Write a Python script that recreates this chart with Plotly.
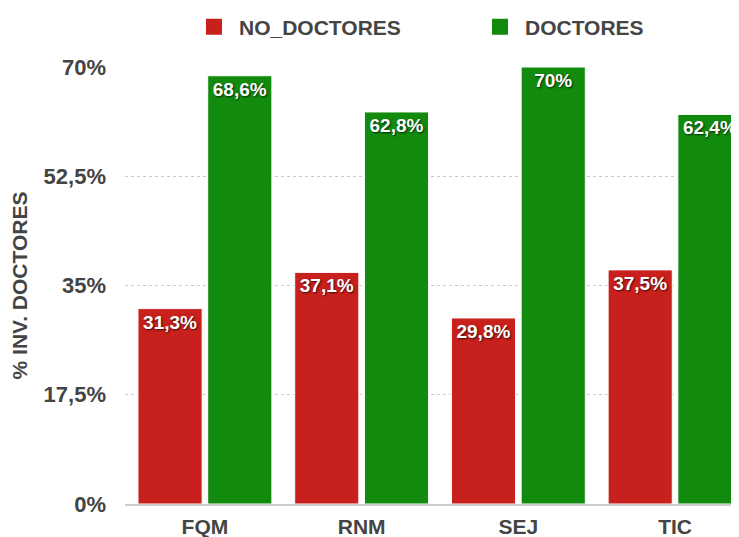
import plotly.graph_objects as go

categories = ["FQM", "RNM", "SEJ", "TIC"]
no_doctores = [31.3, 37.1, 29.8, 37.5]
doctores = [68.6, 62.8, 70, 62.4]
tick_vals = [0, 17.5, 35, 52.5, 70]


def pct(v):
    s = f"{v:g}".replace(".", ",")
    return s + "%"


RED = "#C8201C"
GREEN = "#118A0E"
FONT = "Liberation Sans"
TXT = "#444444"
W, H = 731, 529

fig = go.Figure()
series = [("NO_DOCTORES", no_doctores, RED, "legend"), ("DOCTORES", doctores, GREEN, "legend2")]
for name, vals, col, lg in series:
    fig.add_trace(go.Bar(
        x=categories, y=vals, name=name, showlegend=False,
        marker=dict(color=col, line=dict(color="white", width=1)),
        text=[pct(v) for v in vals], textposition="inside", insidetextanchor="end",
        textangle=0, constraintext="none",
        textfont=dict(family=FONT, size=19, color="white", weight="bold",
                      shadow="1px 1px 2px rgba(0,0,0,0.7)"),
        hoverinfo="skip",
    ))
    fig.add_trace(go.Scatter(
        x=[None], y=[None], mode="markers", name=name, legend=lg,
        marker=dict(symbol="square", size=20, color=col),
    ))

legend_common = dict(orientation="h", xref="container", yref="container",
                     y=1 - 19 / H, yanchor="middle", xanchor="left",
                     bgcolor="rgba(0,0,0,0)", itemwidth=40,
                     font=dict(family=FONT, size=21, color=TXT, weight="bold"))

fig.update_layout(
    width=W, height=H,
    margin=dict(l=117, r=0, t=59, b=33, autoexpand=False),
    plot_bgcolor="white", paper_bgcolor="white",
    barmode="group", bargap=0.11, bargroupgap=0.08,
    legend=dict(x=181 / W, **legend_common),
    legend2=dict(x=467 / W, **legend_common),
    xaxis=dict(range=[-0.51, 3.408], showgrid=False, showline=True, linecolor="#cccccc",
               linewidth=2, ticks="", ticklabelstandoff=3,
               tickfont=dict(family=FONT, size=21, color=TXT, weight="bold")),
    yaxis=dict(range=[0, 70], tickmode="array", tickvals=tick_vals,
               ticktext=[pct(v) for v in tick_vals],
               showgrid=True, gridcolor="#cccccc", griddash="dot", gridwidth=1,
               zeroline=False, ticklabelstandoff=18,
               tickfont=dict(family=FONT, size=22, color=TXT, weight="bold"),
               title=dict(text="% INV. DOCTORES", standoff=11,
                          font=dict(family=FONT, size=21, color=TXT, weight="bold"))),
)

fig.write_html("out.html", post_script="document.body.style.overflow='hidden';")
